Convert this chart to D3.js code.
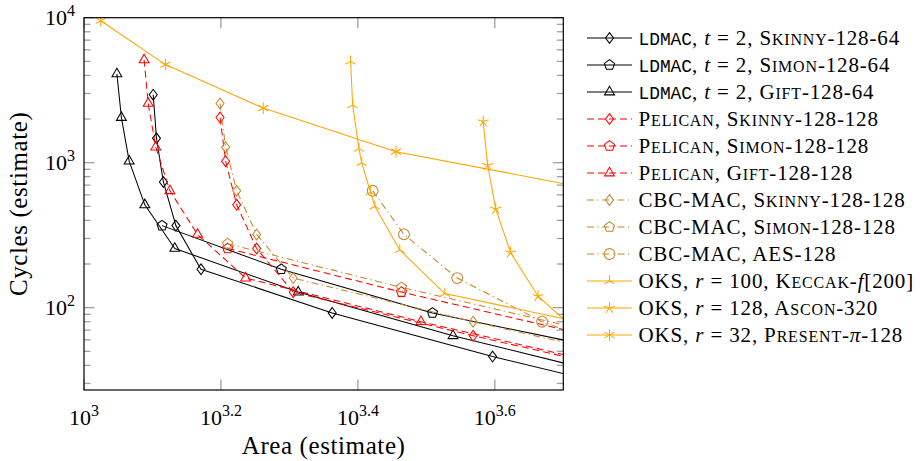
<!DOCTYPE html>
<html><head><meta charset="utf-8">
<script src="https://cdn.jsdelivr.net/npm/d3@7"></script>
<style>body{margin:0;background:#fff}</style>
</head><body>
<svg id="c" width="920" height="461"></svg>
<script>
// ---------- data (area estimate, cycles estimate) ----------
const ldmacSkinnyArea   = [1262, 1276, 1306, 1362, 1482, 2304, 3951, 7245];
const ldmacSkinnyCycles = [2944, 1472, 736, 368, 184, 92, 46, 23];
const ldmacSimonArea    = [1300, 1941, 3228, 6560];
const ldmacSimonCycles  = [368, 184, 92, 46];
const ldmacGiftArea     = [1117, 1134, 1164, 1227, 1357, 2055, 3459, 6267];
const ldmacGiftCycles   = [4096, 2048, 1024, 512, 256, 128, 64, 32];
const pelSkinnyArea     = [1580, 1610, 1671, 1787, 2021, 3701, 7061];
const pelSkinnyCycles   = [2048, 1024, 512, 256, 128, 64, 32];
const pelSimonArea      = [1621, 2909, 5485];
const pelSimonCycles    = [256, 128, 64];
const pelGiftArea       = [1224, 1241, 1273, 1335, 1465, 1722, 3105, 5871];
const pelGiftCycles     = [5120, 2560, 1280, 640, 320, 160, 80, 40];
const cbcSkinnyArea     = [1580, 1610, 1671, 1787, 2021, 3701, 7061];
const cbcSkinnyCycles   = [2560, 1280, 640, 320, 160, 80, 40];
const cbcSimonArea      = [1621, 2909, 5485];
const cbcSimonCycles    = [276, 138, 69];
const cbcAesArea        = [2640, 2933, 3508, 4667, 6985];
const cbcAesCycles      = [640, 320, 160, 80, 40];
const oksKeccakArea     = [2451, 2468, 2521, 2544, 2621, 2659, 2892, 3365, 6730];
const oksKeccakCycles   = [5000, 2500, 1250, 1000, 625, 500, 250, 125, 62.5];
const oksAsconArea      = [3828, 3886, 3993, 4197, 4604, 5418];
const oksAsconCycles    = [1920, 960, 480, 240, 120, 60];
const oksPresentArea    = [1058, 1315, 1827, 2856, 6165];
const oksPresentCycles  = [9530, 4750, 2380, 1191, 596];

const legendLabels = [
  "{tt:LDMAC}, {it:t} = 2, {sc:Skinny}-128-64",
  "{tt:LDMAC}, {it:t} = 2, {sc:Simon}-128-64",
  "{tt:LDMAC}, {it:t} = 2, {sc:Gift}-128-64",
  "{sc:Pelican}, {sc:Skinny}-128-128",
  "{sc:Pelican}, {sc:Simon}-128-128",
  "{sc:Pelican}, {sc:Gift}-128-128",
  "CBC-MAC, {sc:Skinny}-128-128",
  "CBC-MAC, {sc:Simon}-128-128",
  "CBC-MAC, AES-128",
  "OKS, {it:r} = 100, {sc:Keccak}-{it:f}[200]",
  "OKS, {it:r} = 128, {sc:Ascon}-320",
  "OKS, {it:r} = 32, {sc:Present}-{it:π}-128"
];
const xTickExps = ["3", "3.2", "3.4", "3.6"];
const yTickExps = ["2", "3", "4"];
const xLabel = "Area (estimate)";
const yLabel = "Cycles (estimate)";

// ---------- styles ----------
const BLACK = "#000", RED = "#ff0000", CBC = "#c8842a", OKS = "#ffa500";
const DASH = "7,4", DASHDOT = "7,3.5,1.2,3.5";
const series = [
  {a: ldmacSkinnyArea, c: ldmacSkinnyCycles, col: BLACK, dash: null, mk: "diamond"},
  {a: ldmacSimonArea,  c: ldmacSimonCycles,  col: BLACK, dash: null, mk: "pentagon"},
  {a: ldmacGiftArea,   c: ldmacGiftCycles,   col: BLACK, dash: null, mk: "triangle"},
  {a: pelSkinnyArea,   c: pelSkinnyCycles,   col: RED, dash: DASH, mk: "diamond"},
  {a: pelSimonArea,    c: pelSimonCycles,    col: RED, dash: DASH, mk: "pentagon"},
  {a: pelGiftArea,     c: pelGiftCycles,     col: RED, dash: DASH, mk: "triangle"},
  {a: cbcSkinnyArea,   c: cbcSkinnyCycles,   col: CBC, dash: DASHDOT, mk: "diamond"},
  {a: cbcSimonArea,    c: cbcSimonCycles,    col: CBC, dash: DASHDOT, mk: "pentagon"},
  {a: cbcAesArea,      c: cbcAesCycles,      col: CBC, dash: DASHDOT, mk: "ocircle"},
  {a: oksKeccakArea,   c: oksKeccakCycles,   col: OKS, dash: null, mk: "mercedes"},
  {a: oksAsconArea,    c: oksAsconCycles,    col: OKS, dash: null, mk: "star"},
  {a: oksPresentArea,  c: oksPresentCycles,  col: OKS, dash: null, mk: "asterisk"}
];

const L = 84, R = 563.3, T = 17.7, B = 390;
const x = d3.scaleLog().domain([1000, Math.pow(10, 3.7)]).range([L, R]);
const y = d3.scaleLog().domain([Math.pow(10, 1.432), 10000]).range([B, T]);

const svg = d3.select("#c");
const SERIF = "'Liberation Serif', 'DejaVu Serif', serif";
const MONO = "'Liberation Mono', 'DejaVu Sans Mono', monospace";

svg.append("defs").append("clipPath").attr("id", "clip")
  .append("rect").attr("x", L).attr("y", T).attr("width", R - L).attr("height", B - T);

// ---------- ticks ----------
const tickG = svg.append("g").attr("stroke", "#a0a0a0").attr("stroke-width", 1.3);
const majLen = 10.5, minLen = 6.5;
xTickExps.forEach(e => {
  const px = x(Math.pow(10, +e));
  tickG.append("line").attr("x1", px).attr("x2", px).attr("y1", B).attr("y2", B - majLen);
  tickG.append("line").attr("x1", px).attr("x2", px).attr("y1", T).attr("y2", T + majLen);
});
const yDom = y.domain();
for (let k = 1; k <= 4; k++) {
  for (let m = 1; m <= 9; m++) {
    const v = m * Math.pow(10, k);
    if (v < yDom[0] || v > yDom[1]) continue;
    const py = y(v), len = m === 1 ? majLen : minLen;
    tickG.append("line").attr("x1", L).attr("x2", L + len).attr("y1", py).attr("y2", py);
    tickG.append("line").attr("x1", R).attr("x2", R - len).attr("y1", py).attr("y2", py);
  }
}

// ---------- tick labels ----------
function powLabel(t, e) {
  t.append("tspan").text("10");
  t.append("tspan").attr("dy", -9.5).style("font-size", "16px").text(e);
}
xTickExps.forEach(e => {
  const t = svg.append("text").attr("x", x(Math.pow(10, +e))).attr("y", 425)
    .attr("text-anchor", "middle").style("font-family", SERIF).style("font-size", "22px");
  powLabel(t, e);
});
yTickExps.forEach(e => {
  const t = svg.append("text").attr("x", 75).attr("y", y(Math.pow(10, +e)) + 7.5)
    .attr("text-anchor", "end").style("font-family", SERIF).style("font-size", "22px");
  powLabel(t, e);
});

// axis labels
svg.append("text").attr("x", (L + R) / 2).attr("y", 454).attr("text-anchor", "middle")
  .style("font-family", SERIF).style("font-size", "25px").style("letter-spacing", "0.6px")
  .text(xLabel);
svg.append("text").attr("transform", `translate(27,${(T + B) / 2}) rotate(-90)`)
  .attr("text-anchor", "middle").style("font-family", SERIF).style("font-size", "25px")
  .style("letter-spacing", "0.6px").text(yLabel);

// ---------- markers ----------
function markerPath(type) {
  const p = d3.path();
  if (type === "diamond") {
    p.moveTo(0, -5.4); p.lineTo(4, 0); p.lineTo(0, 5.4); p.lineTo(-4, 0); p.closePath();
  } else if (type === "pentagon") {
    const r = 5.3;
    for (let i = 0; i < 5; i++) {
      const a = -Math.PI / 2 + i * 2 * Math.PI / 5;
      i ? p.lineTo(r * Math.cos(a), r * Math.sin(a)) : p.moveTo(r * Math.cos(a), r * Math.sin(a));
    }
    p.closePath();
  } else if (type === "triangle") {
    const r = 5.7;
    p.moveTo(0, -r); p.lineTo(r * 0.866, r * 0.5); p.lineTo(-r * 0.866, r * 0.5); p.closePath();
  } else if (type === "ocircle") {
    p.arc(0, 0, 5.4, 0, 2 * Math.PI); p.closePath();
  } else if (type === "mercedes") {
    const r = 5.8;
    p.moveTo(0, 0); p.lineTo(0, -r);
    p.moveTo(0, 0); p.lineTo(-r * 0.866, r * 0.5);
    p.moveTo(0, 0); p.lineTo(r * 0.866, r * 0.5);
  } else if (type === "star") {
    const r = 5.8;
    for (let i = 0; i < 5; i++) {
      const a = -Math.PI / 2 + i * 2 * Math.PI / 5;
      p.moveTo(0, 0); p.lineTo(r * Math.cos(a), r * Math.sin(a));
    }
  } else if (type === "asterisk") {
    const r = 5.8;
    for (let i = 0; i < 3; i++) {
      const a = -Math.PI / 2 + i * Math.PI / 3;
      p.moveTo(-r * Math.cos(a), -r * Math.sin(a)); p.lineTo(r * Math.cos(a), r * Math.sin(a));
    }
  }
  return p.toString();
}
function drawMarker(g, type, cx, cy, col) {
  g.append("path").attr("d", markerPath(type)).attr("transform", `translate(${cx},${cy})`)
    .attr("fill", "none").attr("stroke", col).attr("stroke-width", 1.05)
    .attr("stroke-linejoin", "miter");
}

// ---------- series ----------
const plotG = svg.append("g").attr("clip-path", "url(#clip)");
const line = d3.line().x(d => x(d[0])).y(d => y(d[1]));
const xd = x.domain();
series.forEach(s => {
  const pts = s.a.map((v, i) => [v, s.c[i]]);
  plotG.append("path").attr("d", line(pts)).attr("fill", "none")
    .attr("stroke", s.col).attr("stroke-width", 1.05)
    .attr("stroke-dasharray", s.dash).attr("stroke-linejoin", "round");
  pts.filter(d => d[0] >= xd[0] && d[0] <= xd[1]).forEach(d => {
    drawMarker(plotG, s.mk, x(d[0]), y(d[1]), s.col);
  });
});

// frame
svg.append("rect").attr("x", L).attr("y", T).attr("width", R - L).attr("height", B - T)
  .attr("fill", "none").attr("stroke", "#000").attr("stroke-width", 1.2);

// ---------- legend ----------
const legG = svg.append("g");
const LX0 = 587, LX1 = 632, LTX = 638.5, LY0 = 38, LDY = 27;
function renderLabel(t, str, fs) {
  const re = /\{(tt|it|sc):([^}]*)\}|([^{]+)/g;
  let m;
  while ((m = re.exec(str)) !== null) {
    if (m[3] !== undefined) {
      t.append("tspan").text(m[3]);
    } else if (m[1] === "tt") {
      t.append("tspan").style("font-family", MONO).style("font-size", (fs * 0.85) + "px")
        .style("letter-spacing", "0px").text(m[2]);
    } else if (m[1] === "it") {
      t.append("tspan").style("font-style", "italic").text(m[2]);
    } else if (m[1] === "sc") {
      t.append("tspan").text(m[2][0]);
      t.append("tspan").style("font-size", (fs * 0.76) + "px").text(m[2].slice(1).toUpperCase());
    }
  }
}
series.forEach((s, i) => {
  const ry = LY0 + i * LDY;
  legG.append("line").attr("x1", LX0).attr("x2", LX1).attr("y1", ry).attr("y2", ry)
    .attr("stroke", s.col).attr("stroke-width", 1.05).attr("stroke-dasharray", s.dash);
  drawMarker(legG, s.mk, (LX0 + LX1) / 2, ry, s.col);
  const fs = 21;
  const t = legG.append("text").attr("x", LTX).attr("y", ry + 6.5)
    .style("font-family", SERIF).style("font-size", fs + "px").style("letter-spacing", "0.85px");
  renderLabel(t, legendLabels[i], fs);
});
</script>
</body></html>
